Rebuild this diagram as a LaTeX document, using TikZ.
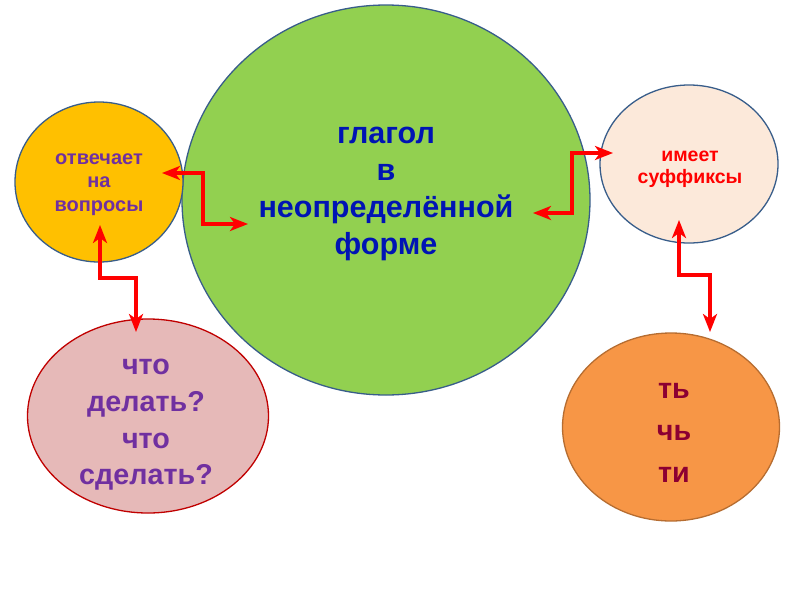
\documentclass[tikz,border=0pt]{standalone}
\usepackage{fontspec}
\setmainfont{Liberation Sans}
\usetikzlibrary{shapes.geometric,arrows.meta}
\definecolor{cgreen}{HTML}{92D050}
\definecolor{cyellow}{HTML}{FFC000}
\definecolor{cpeach}{HTML}{FCE9DA}
\definecolor{cpink}{HTML}{E6B9B8}
\definecolor{corange}{HTML}{F79646}
\definecolor{bblue}{HTML}{385D8A}
\definecolor{bred}{HTML}{C00000}
\definecolor{bbrown}{HTML}{B66D31}
\definecolor{tblue}{RGB}{0,20,180}
\definecolor{tpurple}{HTML}{7030A0}
\definecolor{tcrimson}{RGB}{140,0,50}
\begin{document}
\begin{tikzpicture}[x=1pt,y=-1pt,
  blob/.style={ellipse, draw=#1, line width=1.3pt, inner sep=0pt},
  link/.style={draw=red, line width=3.2pt,
    {Stealth[length=18pt,width=14pt,inset=5pt]}-{Stealth[length=18pt,width=14pt,inset=5pt]}},
  lbl/.style={align=center, font=\bfseries, inner sep=0pt}
]
\useasboundingbox (0,0) rectangle (800,600);
\fill[white] (0,0) rectangle (800,600);

\node[blob=bblue, fill=cgreen, minimum width=408pt, minimum height=390pt] (verb) at (386,200) {};
\node[blob=bblue, fill=cyellow, minimum width=168pt, minimum height=160pt] (ask) at (99,182) {};
\node[blob=bred, fill=cpink, minimum width=241pt, minimum height=194pt] (quest) at (148,416) {};
\node[blob=bblue, fill=cpeach, minimum width=178pt, minimum height=158pt] (suff) at (689,164) {};
\node[blob=bbrown, fill=corange, minimum width=217pt, minimum height=188pt] (ends) at (671,427) {};

\node[lbl, text=tblue, font=\bfseries\fontsize{30.5}{37}\selectfont] (verbt) at (386,194)
  {глагол\\в\\неопределённой\\форме};
\node[lbl, text=tpurple, font=\bfseries\fontsize{20}{23.5}\selectfont] (askt) at (99,184.5)
  {отвечает\\на\\вопросы};
\node[lbl, text=red, font=\bfseries\fontsize{19.5}{22}\selectfont] (sufft) at (690,169)
  {имеет\\суффиксы};
\node[lbl, text=tpurple, font=\bfseries\fontsize{28.7}{36.7}\selectfont] (questt) at (146,425)
  {что\\делать?\\что\\сделать?};
\node[lbl, text=tcrimson, font=\bfseries\fontsize{28.7}{42}\selectfont] (endst) at (674,432.5)
  {ть\\чь\\ти};

\coordinate (a1s) at (162,173);
\coordinate (a1e) at (248,224);
\coordinate (a2s) at (100,225);
\coordinate (a2e) at (136,332);
\coordinate (a3s) at (533,213);
\coordinate (a3e) at (613,153);
\coordinate (a4s) at (679,220);
\coordinate (a4e) at (710,332);

\draw[link] (a1s) -- ++(41,0) |- (a1e);
\draw[link] (a2s) -- ++(0,53) -| (a2e);
\draw[link] (a3s) -- ++(39,0) |- (a3e);
\draw[link] (a4s) -- ++(0,55) -| (a4e);
\end{tikzpicture}
\end{document}
